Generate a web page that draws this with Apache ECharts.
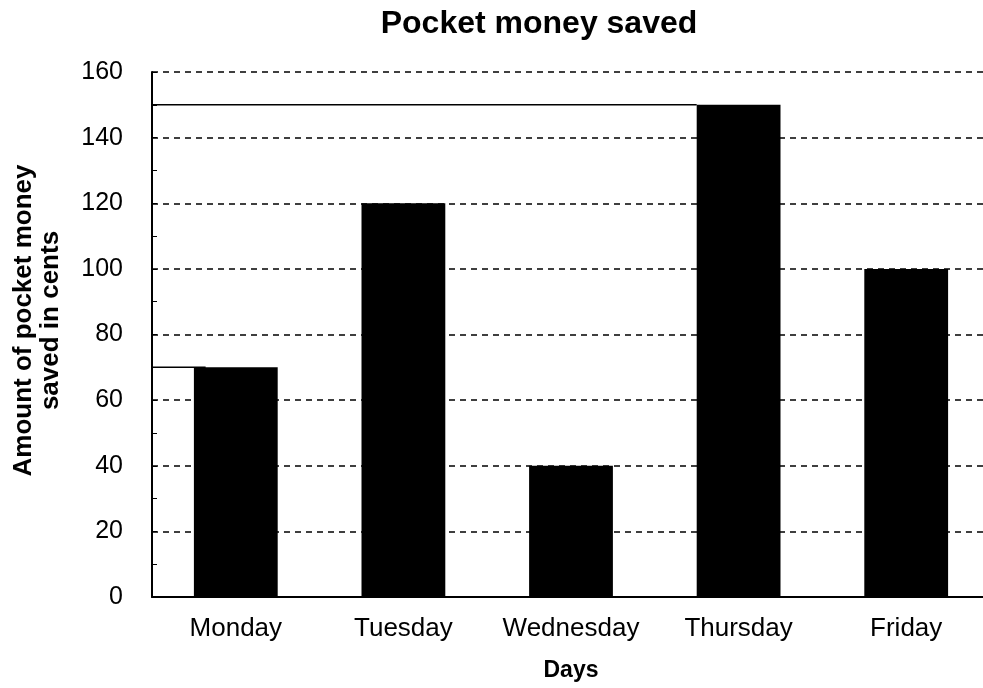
<!DOCTYPE html>
<html>
<head>
<meta charset="utf-8">
<script src="https://cdn.jsdelivr.net/npm/echarts@6/dist/echarts.min.js"></script>
<style>html,body{margin:0;padding:0;background:#fff;}#c{width:983px;height:688px;}</style>
</head>
<body>
<div id="c"></div>
<script>
const categories = ['Monday', 'Tuesday', 'Wednesday', 'Thursday', 'Friday'];
const savedCents = [70, 120, 40, 150, 100];
const chartTitle = 'Pocket money saved';
const yAxisName = 'Amount of pocket money\nsaved in cents';
const xAxisName = 'Days';
// reading guide lines drawn in the original (x positions in category-index units)
const guideThursday = [[-0.5, 150], [2.75, 150]];
const guideMonday = [[-0.5, 70], [-0.18, 70]];

const chart = echarts.init(document.getElementById('c'));
const font = 'Liberation Sans, Arial, sans-serif';
chart.setOption({
  backgroundColor: '#fff',
  animation: false,
  title: {
    text: chartTitle, left: 534, top: 3, textAlign: 'center',
    textStyle: { fontFamily: font, fontWeight: 'bold', fontSize: 32, color: '#000' }
  },
  grid: { left: 152, top: 72, width: 838, height: 525, containLabel: false, outerBoundsMode: 'none' },
  xAxis: [{
    type: 'category', data: categories,
    name: xAxisName, nameLocation: 'middle', nameGap: 62,
    nameTextStyle: { fontFamily: font, fontWeight: 'bold', fontSize: 23, color: '#000' },
    axisLine: { lineStyle: { color: '#000', width: 2 } },
    axisTick: { show: false },
    axisLabel: { fontFamily: font, fontSize: 26, color: '#000', margin: 19, interval: 0, hideOverlap: false }
  }, {
    type: 'value', min: -0.5, max: 4.5, show: false, position: 'bottom'
  }],
  yAxis: {
    type: 'value', min: 0, max: 160, interval: 20,
    name: yAxisName, nameLocation: 'middle', nameGap: 88,
    nameTextStyle: { fontFamily: font, fontWeight: 'bold', fontSize: 26, color: '#000', lineHeight: 27, padding: [0, 0, 0, 28] },
    axisLine: { show: true, onZero: false, lineStyle: { color: '#000', width: 2 } },
    axisTick: { show: true, inside: true, length: 5, lineStyle: { color: '#000' } },
    minorTick: { show: true, splitNumber: 2, length: 5, lineStyle: { color: '#000' } },
    axisLabel: { fontFamily: font, fontSize: 25, color: '#000', margin: 29 },
    splitLine: { show: true, lineStyle: { color: '#000', type: [6, 5], width: 1.5 } }
  },
  series: [{
    type: 'bar', data: savedCents, barWidth: '50%', xAxisIndex: 0,
    itemStyle: { color: '#000' }
  }, {
    type: 'line', xAxisIndex: 1, data: guideThursday, symbol: 'none', silent: true,
    lineStyle: { color: '#000', width: 1.5 }, z: 1
  }, {
    type: 'line', xAxisIndex: 1, data: guideMonday, symbol: 'none', silent: true,
    lineStyle: { color: '#000', width: 1.5 }, z: 3
  }]
});
</script>
</body>
</html>
